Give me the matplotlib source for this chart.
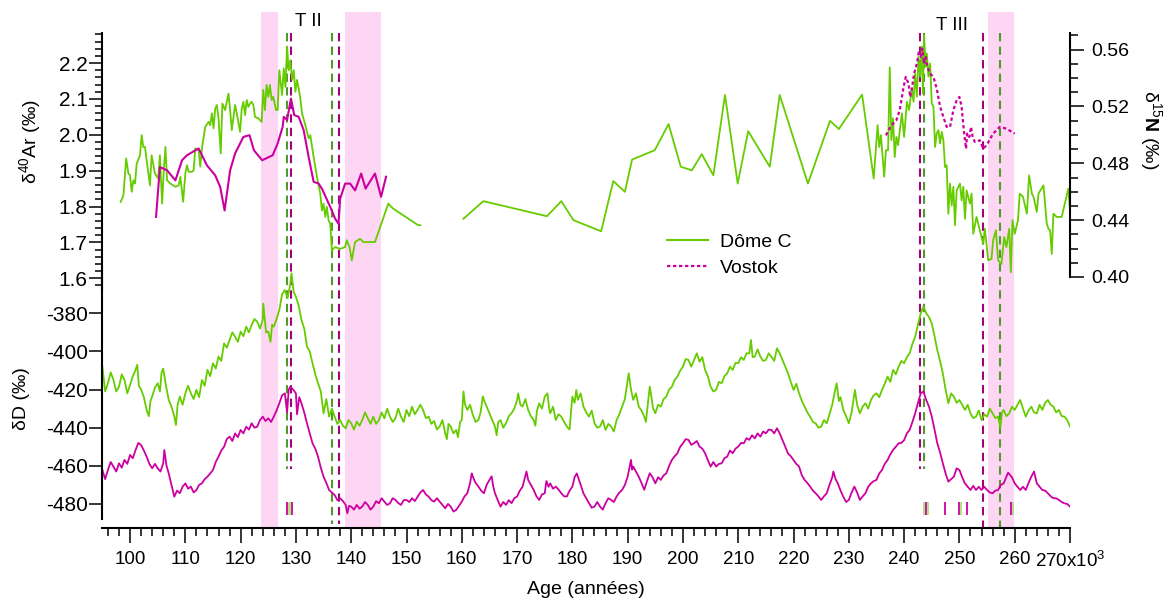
import numpy as np
import matplotlib
matplotlib.use('Agg')
import matplotlib.pyplot as plt
from matplotlib.lines import Line2D
from matplotlib.ticker import FixedLocator, FixedFormatter, MultipleLocator, FormatStrFormatter

plt.rcParams['font.family'] = 'Liberation Sans'
plt.rcParams['mathtext.fontset'] = 'custom'
plt.rcParams['mathtext.rm'] = 'Liberation Sans'
plt.rcParams['mathtext.it'] = 'Liberation Sans:italic'
plt.rcParams['mathtext.bf'] = 'Liberation Sans:bold'
plt.rcParams['axes.unicode_minus'] = False

# ---- data (age in kyr) ----
# dD, Dome C (age, permil)
dd_domec = np.array([
    (95, -408), (95.5, -421), (96, -416.7), (96.5, -411), (97, -415), (97.5, -421),
    (98, -418.5), (98.5, -412), (99, -415), (99.5, -422), (100, -417.6), (100.5, -413),
    (101, -409.7), (101.3, -407), (101.6, -418), (102, -420), (102.5, -424), (103, -430.7),
    (103.4, -434), (103.7, -426), (104, -423.7), (104.5, -419), (105, -416.7), (105.4, -421),
    (105.7, -411), (106, -409), (106.5, -418), (107, -425.5), (107.5, -429), (108, -434),
    (108.3, -438.6), (108.6, -428), (109, -423.7), (109.5, -428), (110, -422), (110.5, -418),
    (111, -422), (111.5, -425), (112, -420.2), (112.5, -424), (113, -415), (113.5, -418),
    (114, -409.7), (114.5, -413), (115, -406.2), (115.5, -409), (116, -402.7), (116.5, -405),
    (117, -395.8), (117.5, -398), (118, -394), (118.5, -390), (119, -392.3), (119.5, -395),
    (120, -389.6), (120.5, -392), (121, -387), (121.5, -390), (122, -386.1), (122.5, -383),
    (123, -384.4), (123.5, -388), (124, -383.5), (124.1, -375), (124.6, -390), (125, -389.6),
    (125.4, -395), (125.7, -386), (126, -387), (126.5, -383), (127, -378.3), (127.5, -370),
    (128, -367.8), (128.5, -372), (129, -364.3), (129.2, -359), (129.6, -369), (130, -371.3),
    (130.5, -376), (131, -383.5), (131.5, -388), (132, -397.5), (132.5, -400), (133, -406.2),
    (133.5, -412), (134, -416.7), (134.5, -421), (135, -432.5), (135.5, -425), (136, -434.2),
    (136.5, -430), (137, -434.2), (137.5, -438), (138, -436), (138.5, -439), (139, -440.3),
    (139.5, -436), (140, -437.7), (140.5, -441), (141, -436.8), (141.5, -439), (142, -436),
    (142.5, -432), (143, -435.1), (143.5, -438), (144, -434.2), (144.5, -438), (145, -436),
    (145.5, -432), (146, -435.1), (146.5, -430), (147, -434.2), (147.5, -437), (148, -435.1),
    (148.5, -430), (149, -434.2), (149.5, -437), (150, -430.7), (150.5, -434), (151, -429),
    (151.5, -433), (152, -430.7), (152.5, -428), (153, -430.7), (153.5, -435), (154, -434.2),
    (154.5, -438), (155, -436.5), (155.5, -441), (156, -439.4), (156.5, -436), (157, -442.9),
    (157.3, -446), (157.6, -438), (158, -439.4), (158.5, -443), (159, -441.2), (159.3, -445),
    (159.7, -437), (160, -436), (160.3, -421), (160.6, -428), (161, -430.7), (161.5, -428),
    (162, -433.3), (162.5, -437), (163, -436), (163.4, -432), (163.8, -423.7), (164, -425.4),
    (164.5, -429), (165, -432.4), (165.5, -436), (166, -439.4), (166.3, -444), (166.6, -437),
    (167, -436), (167.5, -440), (168, -437.7), (168.5, -434), (169, -432.4), (169.5, -430),
    (170, -425.4), (170.2, -422), (170.6, -428), (171, -428.9), (171.5, -425), (172, -430.7),
    (172.5, -434), (173, -436), (173.3, -439), (173.6, -431), (174, -427.2), (174.5, -430),
    (175, -423.7), (175.5, -422), (175.8, -430), (176, -432.4), (176.5, -429), (177, -436),
    (177.5, -433), (178, -434.2), (178.5, -437), (179, -439.4), (179.5, -441), (179.8, -430),
    (180, -423.7), (180.4, -427), (180.7, -420.2), (181, -425.4), (181.5, -422), (182, -428.9),
    (182.5, -432), (183, -434.2), (183.5, -431), (184, -437.7), (184.5, -440), (185, -439.4),
    (185.5, -436), (186, -441.2), (186.5, -438), (187, -439.4), (187.5, -442), (188, -436),
    (188.5, -433), (189, -428.9), (189.5, -425), (190, -415), (190.2, -411.5), (190.6, -420),
    (191, -425.4), (191.5, -422), (192, -428.9), (192.5, -431), (193, -434.2), (193.3, -437),
    (193.7, -426), (194, -418.5), (194.3, -424), (194.6, -430), (195, -432.4), (195.5, -428),
    (196, -428.9), (196.5, -425), (197, -423.7), (197.5, -420), (198, -418.5), (198.5, -415),
    (199, -413.2), (199.5, -410), (200, -408), (200.5, -404), (201, -404.5), (201.5, -408),
    (202, -404.5), (202.5, -401), (203, -405.4), (203.5, -403), (204, -409.7), (204.5, -413),
    (205, -418.5), (205.5, -421), (206, -420.2), (206.5, -416), (207, -416.7), (207.5, -413),
    (208, -411.5), (208.5, -408), (209, -409.7), (209.5, -406), (210, -406.2), (210.5, -403),
    (211, -404.5), (211.5, -401), (212, -401), (212.3, -394), (212.6, -403), (213, -402.7),
    (213.5, -399), (214, -402.7), (214.5, -405), (215, -404.5), (215.5, -401), (216, -402.8),
    (216.5, -405), (217, -398.4), (217.5, -401), (218, -404.5), (218.5, -408), (219, -411.5),
    (219.5, -416), (220, -420.2), (220.5, -417), (221, -422), (221.5, -426), (222, -429),
    (222.5, -432), (223, -434.2), (223.5, -437), (224, -437.7), (224.5, -440), (225, -439.5),
    (225.5, -436), (226, -437.7), (226.5, -433), (227, -428), (227.4, -422), (227.8, -416.7),
    (228.2, -426), (228.5, -424), (229, -430.7), (229.5, -434), (230, -437.7), (230.5, -432),
    (231.1, -420.2), (231.5, -428), (232, -432.5), (232.5, -429), (233, -427.2), (233.5, -430),
    (234, -425.5), (234.5, -423), (235, -422), (235.5, -424), (236, -420.2), (236.5, -417),
    (237, -413.2), (237.5, -416), (238, -409.7), (238.5, -412), (239, -408), (239.5, -405),
    (240, -406.2), (240.5, -403), (241, -401), (241.5, -396), (242, -392.3), (242.5, -386),
    (243, -380), (243.5, -376.5), (244, -380), (244.5, -382), (245, -385.3), (245.5, -392),
    (246, -399.3), (246.5, -405), (247, -411.5), (247.5, -420), (248, -427.2), (248.5, -422),
    (249, -423.7), (249.5, -427), (250, -425.5), (250.5, -428), (251, -430.7), (251.5, -428),
    (252, -432.5), (252.5, -435), (253, -434.2), (253.5, -431), (254, -436), (254.5, -433),
    (255, -434.2), (255.5, -430), (256, -432.5), (256.5, -435), (257, -434.2), (257.4, -440),
    (257.7, -432), (258, -430.7), (258.5, -434), (259, -432.5), (259.5, -429), (260, -430.7),
    (260.5, -428), (261, -425.5), (261.5, -430), (262, -434.2), (262.5, -431), (263, -429),
    (263.5, -432), (264, -432.5), (264.5, -428), (265, -430.7), (265.5, -427), (266, -425.5),
    (266.5, -428), (267, -429), (267.5, -432), (268, -430.7), (268.5, -434), (269, -434.2),
    (269.5, -436), (270, -439.5),
])

# dD, Vostok (age, permil)
dd_vostok = np.array([
    (95, -462.2), (95.5, -467), (96, -462.2), (96.5, -458), (97, -460.4), (97.5, -463),
    (98, -458.7), (98.5, -461), (99, -456.9), (99.5, -459), (100, -454.3), (100.5, -456),
    (101, -451.7), (101.5, -448), (102, -449.1), (102.5, -452), (103, -455.2), (103.5, -459),
    (104, -461.3), (104.5, -459), (105, -461.3), (105.5, -463), (106, -458.7), (106.2, -451.7),
    (106.6, -460), (107, -464), (107.5, -470), (108, -476.2), (108.5, -473), (109, -474.4),
    (109.5, -471), (110, -469.2), (110.5, -472), (111, -470.9), (111.5, -474), (112, -472.7),
    (112.5, -470), (113, -469.2), (113.5, -467), (114, -465.7), (114.5, -464), (115, -462.2),
    (115.5, -458), (116, -455.2), (116.5, -452), (117, -450), (117.5, -446), (118, -444.7),
    (118.5, -447), (119, -443), (119.5, -445), (120, -441.2), (120.5, -443), (121, -439.5),
    (121.5, -441), (122, -437.7), (122.5, -440), (123, -439.5), (123.5, -436), (124, -434.2),
    (124.5, -436.5), (125, -435.1), (125.5, -437), (126, -434.2), (126.5, -431), (127, -427.2),
    (127.5, -423), (128, -422), (128.4, -432), (128.7, -420), (129, -418.5), (129.5, -420),
    (130, -422), (130.2, -433), (130.6, -424), (131, -427.2), (131.5, -432), (132, -437.7),
    (132.5, -443), (133, -448.2), (133.5, -451), (134, -455.2), (134.5, -461), (135, -465.7),
    (135.5, -469), (136, -472.7), (136.5, -474), (137, -475.3), (137.5, -478), (138, -477),
    (138.5, -478.5), (139, -480.5), (139.3, -484.9), (139.6, -481), (140, -481.4), (140.5, -483),
    (141, -480.5), (141.5, -482.5), (142, -481.4), (142.5, -479), (143, -480.5), (143.5, -483),
    (144, -481.4), (144.5, -478.5), (145, -479.7), (145.5, -477), (146, -478.8), (146.5, -480.5),
    (147, -479.7), (147.5, -477), (148, -477.9), (148.5, -479.5), (149, -480.5), (149.5, -478),
    (150, -477.9), (150.5, -479), (151, -477), (151.5, -478.5), (152, -476.2), (152.5, -474),
    (153, -472.7), (153.5, -475), (154, -476.2), (154.5, -478), (155, -478.8), (155.5, -477),
    (156, -478.8), (156.5, -480.5), (157, -482.3), (157.5, -480), (158, -481.4), (158.5, -484),
    (159, -483.1), (159.5, -481), (160, -478.8), (160.5, -476), (161, -474.4), (161.5, -469),
    (161.8, -464), (162, -465.7), (162.5, -469), (163, -470.9), (163.5, -473), (164, -474.4),
    (164.5, -470), (165, -467.4), (165.4, -465.5), (165.7, -471), (166, -474.4), (166.5, -478),
    (167, -481.4), (167.5, -479), (168, -480.5), (168.5, -478), (169, -479.6), (169.5, -477),
    (170, -476.1), (170.5, -473), (171, -470.9), (171.7, -463), (172, -467.4), (172.5, -470),
    (173, -472.6), (173.5, -476), (174, -477.9), (174.5, -475), (175, -474.4), (175.3, -468),
    (175.7, -471), (176, -469.2), (176.5, -472), (177, -470.9), (177.5, -472.5), (178, -474.4),
    (178.5, -476), (179, -476.1), (179.5, -473), (180, -470.9), (180.4, -466), (180.8, -464),
    (181, -465.7), (181.5, -470), (182, -474.4), (182.5, -477), (183, -479.6), (183.5, -482),
    (184, -481.4), (184.5, -479), (185, -481.4), (185.5, -483), (186, -479.6), (186.5, -477),
    (187, -477.9), (187.5, -479), (188, -476.1), (188.5, -474), (189, -472.6), (189.5, -470),
    (190, -465.7), (190.6, -456.9), (190.8, -462), (191, -460.4), (191.5, -463), (192, -465.7),
    (192.5, -469), (193, -472.6), (193.5, -468), (194, -463.9), (194.5, -466), (195, -469.2),
    (195.5, -466), (196, -467.4), (196.5, -465), (197, -463.9), (197.5, -460), (198, -456.9),
    (198.5, -455), (199, -453.4), (199.5, -450), (200, -448.2), (200.5, -446), (201, -446.4),
    (201.5, -449), (202, -448.2), (202.5, -447), (203, -449.9), (203.5, -451), (204, -453.4),
    (204.5, -457), (205, -460.4), (205.5, -458), (206, -460.4), (206.5, -459), (207, -458.7),
    (207.5, -456), (208, -455.2), (208.5, -452), (209, -453.4), (209.5, -451), (210, -449.9),
    (210.5, -448), (211, -448.2), (211.5, -445.5), (212, -446.4), (212.5, -444), (213, -445.6),
    (213.5, -443), (214, -444.7), (214.5, -442), (215, -443), (215.5, -441), (216, -441.2),
    (216.5, -443), (217, -440.3), (217.5, -443), (218, -446.5), (218.5, -450), (219, -453.5),
    (219.5, -455), (220, -457), (220.5, -459), (221, -460.4), (221.5, -465), (222, -467.4),
    (222.5, -469), (223, -470.9), (223.5, -473), (224, -474.4), (224.5, -476), (225, -477.9),
    (225.5, -476), (226, -474.4), (226.5, -470), (227, -466), (227.2, -463), (227.6, -467),
    (228, -469.2), (228.5, -473), (229, -476.2), (229.5, -479), (230, -477.9), (230.5, -474),
    (231, -470.9), (231.5, -474), (232, -477.9), (232.5, -476), (233, -474.4), (233.5, -471),
    (234, -469.2), (234.5, -468), (235, -467.4), (235.5, -464), (236, -462.2), (236.5, -459),
    (237, -457), (237.5, -454), (238, -451.7), (238.5, -450), (239, -448.2), (239.5, -448),
    (240, -446.5), (240.5, -443), (241, -441.2), (241.5, -437), (242, -432.5), (242.5, -427),
    (243, -422), (243.5, -421), (244, -425.5), (244.5, -429), (245, -434.2), (245.5, -441),
    (246, -448.2), (246.5, -453), (247, -458.7), (247.5, -464), (248, -468.3), (248.5, -467),
    (249, -465.7), (249.5, -461.3), (250, -462.2), (250.5, -466), (251, -469.2), (251.5, -471),
    (252, -472.7), (252.5, -470.5), (253, -472.7), (253.5, -471), (254, -472.7), (254.5, -471),
    (255, -472.7), (255.5, -474), (256, -474.4), (256.5, -473), (257, -472.7), (257.5, -470),
    (258, -469.2), (258.8, -463.6), (259.5, -466), (260, -469.2), (260.5, -471), (261, -472.7),
    (261.5, -471), (262, -472.7), (262.5, -469), (263, -465.7), (263.5, -463), (264, -469.2),
    (264.5, -471), (265, -472.7), (265.5, -473), (266, -474.4), (266.5, -476), (267, -477),
    (267.5, -477), (268, -477.9), (268.5, -479), (269, -479.7), (269.5, -480), (270, -481.4),
])

# d40Ar, Dome C (age, permil); NaN marks the gap in the record
ar_domec = np.array([
    (98.3, 1.813), (98.8, 1.831), (99.3, 1.934), (99.7, 1.892), (100.0, 1.887), (100.3, 1.841),
    (100.6, 1.873), (100.9, 1.864), (101.2, 1.920), (101.8, 1.943), (102.1, 1.999), (102.4, 1.966),
    (102.7, 1.966), (103.0, 1.929), (103.6, 1.859), (103.9, 1.943), (104.5, 1.892), (105.1, 1.878),
    (105.4, 1.943), (105.8, 1.808), (106.1, 1.901), (106.4, 1.966), (106.7, 1.873), (107.3, 1.864),
    (108.2, 1.855), (108.8, 1.859), (109.1, 1.883), (109.6, 1.813), (110.0, 1.892), (110.3, 1.915),
    (110.6, 1.897), (111.2, 1.897), (111.5, 1.901), (111.8, 1.962), (112.4, 1.957), (112.7, 1.911),
    (113.0, 1.962), (113.6, 2.022), (114.2, 2.036), (114.5, 2.027), (114.8, 2.060), (115.1, 2.018),
    (115.4, 2.073), (115.7, 2.083), (116.0, 2.046), (116.4, 1.948), (116.7, 2.087), (117.2, 2.069),
    (117.8, 2.115), (118.1, 2.069), (118.4, 2.013), (119.0, 2.083), (119.3, 2.060), (119.9, 2.008),
    (120.2, 2.073), (120.5, 2.092), (120.8, 2.055), (121.1, 2.097), (121.4, 2.078), (121.7, 2.087),
    (122.0, 2.092), (122.3, 2.083), (122.6, 2.050), (123.2, 2.046), (123.8, 2.036), (124.1, 2.125),
    (124.4, 2.069), (124.7, 2.139), (125.0, 2.106), (125.3, 2.139), (125.6, 2.097), (125.9, 2.106),
    (126.4, 2.069), (126.7, 2.069), (127.0, 2.180), (127.5, 2.111), (127.8, 2.185), (128.1, 2.134),
    (128.4, 2.246), (128.7, 2.180), (129.0, 2.208), (129.3, 2.153), (129.6, 2.180), (129.9, 2.120),
    (130.2, 2.153), (130.5, 2.129), (130.8, 2.101), (131.1, 2.060), (131.7, 2.027), (132.3, 1.990),
    (132.6, 1.999), (133.2, 1.938), (133.8, 1.883), (134.4, 1.836), (134.7, 1.789), (135.0, 1.808),
    (135.3, 1.771), (135.6, 1.799), (135.9, 1.762), (136.2, 1.752), (136.5, 1.678), (137.1, 1.687),
    (138.0, 1.682), (138.9, 1.687), (139.2, 1.706), (139.7, 1.687), (140.1, 1.650), (140.7, 1.701),
    (141.6, 1.710), (142.2, 1.701), (144.3, 1.701), (146.7, 1.808), (147.6, 1.794), (152.1, 1.748),
    (152.5, 1.748), (156.0, np.nan),
    (160.3, 1.766), (163.9, 1.815), (175.4, 1.773), (178.0, 1.815), (180.2, 1.762), (185.2, 1.731),
    (187.4, 1.871), (189.5, 1.841), (190.8, 1.931), (194.9, 1.957), (197.4, 2.030), (199.6, 1.911),
    (201.6, 1.901), (203.4, 1.946), (205.5, 1.887), (207.6, 2.111), (209.9, 1.864), (211.8, 2.010),
    (215.7, 1.911), (217.5, 2.111), (222.6, 1.864), (226.6, 2.039), (228.2, 2.016), (232.4, 2.112),
    (234.5, 1.878), (235.2, 2.027), (235.5, 1.966), (235.8, 1.999), (236.4, 1.883), (236.7, 1.957),
    (237.1, 1.957), (237.4, 2.188), (237.7, 1.985), (238.0, 2.046), (238.3, 1.938), (238.6, 1.994),
    (238.9, 1.971), (239.6, 2.060), (240.0, 1.994), (240.5, 2.092), (240.9, 2.069), (241.4, 2.129),
    (241.7, 2.092), (242.0, 2.171), (242.3, 2.106), (242.6, 2.218), (242.9, 2.162), (243.2, 2.246),
    (243.4, 2.115), (243.6, 2.278), (243.9, 2.190), (244.1, 2.227), (244.4, 2.162), (244.7, 2.199),
    (245.0, 2.087), (245.3, 2.078), (245.6, 1.966), (245.9, 2.004), (246.2, 2.013), (246.5, 1.976),
    (246.8, 2.008), (247.1, 1.985), (247.4, 1.910), (247.7, 1.915), (248.0, 1.780), (248.3, 1.864),
    (248.6, 1.803), (248.9, 1.855), (249.2, 1.748), (249.5, 1.845), (250.1, 1.864), (250.4, 1.817),
    (250.7, 1.855), (251.0, 1.766), (251.3, 1.845), (251.9, 1.808), (252.2, 1.836), (252.5, 1.724),
    (253.1, 1.771), (253.7, 1.734), (254.3, 1.696), (254.6, 1.738), (255.2, 1.650), (255.8, 1.654),
    (256.1, 1.706), (256.6, 1.734), (257.0, 1.650), (257.6, 1.640), (258.1, 1.715), (258.5, 1.687),
    (259.0, 1.738), (259.3, 1.617), (259.6, 1.762), (260.0, 1.724), (260.6, 1.762), (260.9, 1.836),
    (261.5, 1.827), (262.2, 1.780), (262.6, 1.887), (263.1, 1.836), (263.4, 1.827), (264.0, 1.785),
    (264.3, 1.836), (265.2, 1.859), (265.8, 1.752), (266.1, 1.738), (266.4, 1.734), (266.7, 1.668),
    (267.0, 1.780), (267.6, 1.771), (268.5, 1.771), (269.7, 1.850), (270.0, 1.789),
])

# d40Ar, Vostok (age, permil)
ar_vostok = np.array([
    (104.7, 1.771), (105.4, 1.910), (106.7, 1.901), (108.2, 1.873), (109.4, 1.929), (110.3, 1.943),
    (112.4, 1.962), (113.9, 1.915), (115.4, 1.887), (116.3, 1.855), (117.1, 1.789), (118.1, 1.901),
    (119.0, 1.948), (120.5, 1.994), (121.6, 1.999), (122.4, 1.957), (123.9, 1.929), (125.8, 1.943),
    (126.7, 1.976), (127.6, 2.022), (127.8, 2.050), (128.4, 2.041), (129.1, 2.101), (129.7, 2.055),
    (130.5, 2.050), (131.4, 2.013), (132.3, 1.938), (133.2, 1.869), (134.1, 1.864), (134.7, 1.850),
    (136.2, 1.799), (137.1, 1.766), (137.7, 1.752), (138.0, 1.822), (138.9, 1.864), (139.8, 1.864),
    (140.7, 1.845), (141.8, 1.892), (142.6, 1.850), (144.3, 1.892), (145.4, 1.827), (146.3, 1.883),
])

# d15N, Vostok (age, permil)
n15_vostok = np.array([
    (236.7, 0.4997), (237.7, 0.5067), (238.6, 0.5103), (239.2, 0.5173), (239.9, 0.5337), (240.3, 0.5408),
    (240.8, 0.5361), (241.1, 0.5267), (241.4, 0.5325), (241.8, 0.5431), (242.3, 0.5501), (242.7, 0.5595),
    (243.0, 0.5548), (243.3, 0.5607), (243.6, 0.5501), (243.9, 0.5548), (244.2, 0.5478), (244.7, 0.5431),
    (245.3, 0.5408), (245.9, 0.5325), (246.4, 0.5220), (246.7, 0.5173), (247.1, 0.5126), (247.7, 0.5056),
    (248.3, 0.5056), (248.9, 0.5173), (249.5, 0.5243), (250.0, 0.5267), (250.4, 0.5197), (250.8, 0.5032),
    (251.2, 0.4903), (251.4, 0.5009), (251.8, 0.4985), (252.1, 0.5056), (252.4, 0.4985), (252.8, 0.4950),
    (253.7, 0.4962), (254.3, 0.4903), (254.9, 0.4927), (256.1, 0.5009), (257.3, 0.5056), (258.5, 0.5044),
    (260.0, 0.5009),
])

# shaded intervals and tie-point ages
shade_spans = [(123.6, 126.8), (138.9, 145.3), (255.2, 259.9)]
ties_domec = [128.3, 136.6, 243.6, 257.3]
ties_vostok = [129.1, 137.8, 242.9, 254.3]
rug_domec = [128.65, 128.85, 243.65, 244.4, 250.2, 259.75]
rug_vostok = [128.35, 129.3, 243.9, 247.4, 249.9, 251.3, 259.3]

x_major = list(range(100, 271, 10))
x_labels = [str(v) for v in x_major[:-1]] + ['270x10$^3$']

GREEN = '#66CC00'
MAGENTA = '#CC00A0'
PINK = '#FDD6F3'
TIE_GREEN = '#4F9A28'
TIE_MAGENTA = '#A4007C'
RUG_GREEN = '#ACE07A'

# ---- layout in pixels ----
W, H = 1171, 601
X0, X1 = 102.4, 1070


def box(x0, y0, x1, y1):
    return [x0 / W, 1 - y1 / H, (x1 - x0) / W, (y1 - y0) / H]


def px(x, y):
    return x / W, 1 - y / H


fig = plt.figure(figsize=(W / 100, H / 100), dpi=100)

# background layer: shading, tie lines, markers, legend
ax_bg = fig.add_axes([X0 / W, 0, (X1 - X0) / W, 1])
ax_bg.set_xlim(95, 270)
ax_bg.set_ylim(H, 0)
ax_bg.axis('off')

for a, b in shade_spans:
    ax_bg.axvspan(a, b, ymin=(H - 528) / H, ymax=(H - 12) / H, color=PINK, lw=0)

tie_bottom = [469, 524, 469, 528]
for x, yb in zip(ties_domec, tie_bottom):
    ax_bg.vlines(x, 33, yb, colors=TIE_GREEN, linestyles=(0, (4, 2.5)), lw=1.5)
for x, yb in zip(ties_vostok, tie_bottom):
    ax_bg.vlines(x, 33, yb, colors=TIE_MAGENTA, linestyles=(0, (4, 2.5)), lw=1.5)

ax_bg.vlines(rug_domec, 502, 515, colors=RUG_GREEN, lw=1.3)
ax_bg.vlines(rug_vostok, 502, 515, colors=MAGENTA, lw=1.3)

ax_bg.text(132.2, 22, 'T II', ha='center', va='center', fontsize=13.5)
ax_bg.text(248.7, 26, 'T III', ha='center', va='center', fontsize=13.5)

handles = [Line2D([], [], color=GREEN, lw=1.5),
           Line2D([], [], color=MAGENTA, lw=1.6, linestyle=(0, (1.5, 1.2)))]
ax_bg.legend(handles, ['Dôme C', 'Vostok'], loc='center left',
             bbox_to_anchor=px(667, 255), bbox_transform=fig.transFigure,
             frameon=False, borderpad=0, borderaxespad=0, handlelength=2.1,
             handletextpad=0.6, labelspacing=0.4, fontsize=14)

# dD panel (carries the age axis)
ax_d = fig.add_axes(box(X0, 270, X1, 519))
ax_d.patch.set_alpha(0)
ax_d.set_xlim(95, 270)
ax_d.set_ylim(-487.9, -357.3)
ax_d.plot(dd_domec[:, 0], dd_domec[:, 1], color=GREEN, lw=1.3)
ax_d.plot(dd_vostok[:, 0], dd_vostok[:, 1], color=MAGENTA, lw=1.3)
for s in ['top', 'right']:
    ax_d.spines[s].set_visible(False)
ax_d.spines['bottom'].set_position(('outward', 6.5))
ax_d.spines['left'].set_linewidth(1.5)
ax_d.spines['bottom'].set_linewidth(1.5)
ax_d.xaxis.set_major_locator(FixedLocator(x_major))
ax_d.xaxis.set_major_formatter(FixedFormatter(x_labels))
ax_d.xaxis.set_minor_locator(MultipleLocator(2))
ax_d.set_yticks(range(-480, -379, 20))
ax_d.yaxis.set_major_formatter(FormatStrFormatter('%d'))
ax_d.tick_params(axis='x', which='major', length=10.8, width=1.1, labelsize=13.5, pad=6)
ax_d.tick_params(axis='x', which='minor', length=6, width=1.1)
ax_d.tick_params(axis='y', which='major', length=9.5, width=1.1, labelsize=15, pad=1)

# d40Ar panel
ax_a = fig.add_axes(box(X0, 33, X1, 290))
ax_a.patch.set_alpha(0)
ax_a.set_xlim(95, 270)
ax_a.set_ylim(1.5673, 2.2838)
ax_a.plot(ar_domec[:, 0], ar_domec[:, 1], color=GREEN, lw=1.3)
ax_a.plot(ar_vostok[:, 0], ar_vostok[:, 1], color=MAGENTA, lw=1.5)
for s in ['top', 'right', 'bottom']:
    ax_a.spines[s].set_visible(False)
ax_a.spines['left'].set_linewidth(1.5)
ax_a.set_xticks([])
ax_a.set_yticks(np.arange(1.6, 2.21, 0.1))
ax_a.yaxis.set_major_formatter(FormatStrFormatter('%.1f'))
ax_a.yaxis.set_minor_locator(MultipleLocator(0.02))
ax_a.tick_params(axis='y', which='major', length=9.5, width=1.1, labelsize=15, pad=1)
ax_a.tick_params(axis='y', which='minor', length=5, width=1.1)

# d15N panel, right axis
ax_n = fig.add_axes(box(X0, 33, X1, 277))
ax_n.patch.set_alpha(0)
ax_n.set_xlim(95, 270)
ax_n.set_ylim(0.40, 0.5717)
ax_n.plot(n15_vostok[:, 0], n15_vostok[:, 1], color=MAGENTA, lw=1.6, linestyle=(0, (1.5, 1.2)))
for s in ['top', 'left', 'bottom']:
    ax_n.spines[s].set_visible(False)
ax_n.spines['right'].set_linewidth(1.5)
ax_n.set_xticks([])
ax_n.yaxis.tick_right()
ax_n.set_yticks(np.arange(0.40, 0.561, 0.04))
ax_n.yaxis.set_major_formatter(FormatStrFormatter('%.2f'))
ax_n.yaxis.set_minor_locator(MultipleLocator(0.01))
ax_n.tick_params(axis='y', which='major', length=10, width=1.1, labelsize=14, pad=5)
ax_n.tick_params(axis='y', which='minor', length=5.5, width=1.1)

# axis titles
fig.text(*px(30, 142), 'δ$^{40}$Ar (‰)', rotation=90, ha='center', va='center', fontsize=14)
fig.text(*px(22, 399), 'δD (‰)', rotation=90, ha='center', va='center', fontsize=14)
fig.text(*px(1151, 130), r'δ$^{15}\mathbf{N}$ (‰)', rotation=270, ha='center', va='center', fontsize=14)
fig.text(*px(586, 590), 'Age (années)', ha='center', va='center', fontsize=14)

fig.savefig('out.png', dpi=100)
